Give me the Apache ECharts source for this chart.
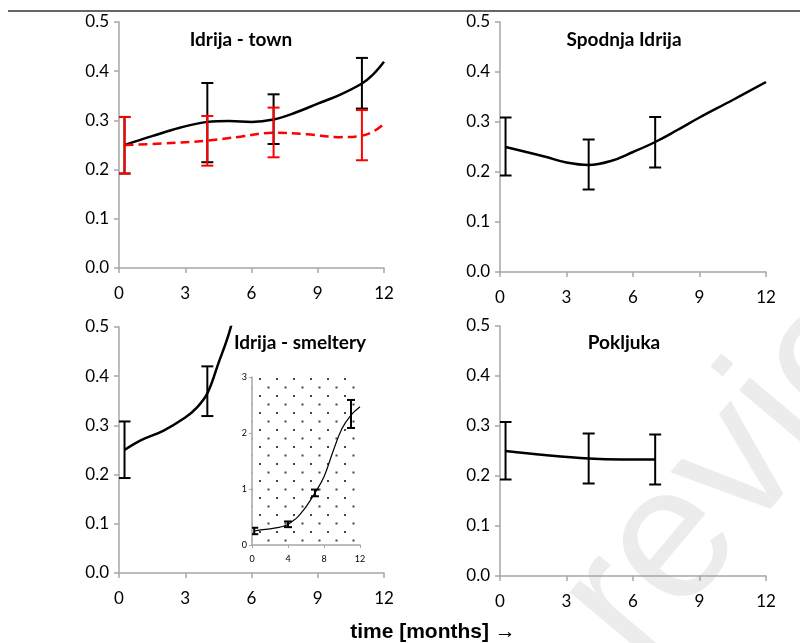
<!DOCTYPE html>
<html>
<head>
<meta charset="utf-8">
<script src="https://cdn.jsdelivr.net/npm/echarts@6/dist/echarts.min.js"></script>
<style>
  html, body { margin: 0; padding: 0; background: #fff; }
  #chart { width: 800px; height: 643px; }
</style>
</head>
<body>
<div id="chart"></div>
<script>
// measured points (months, mean, low, high)
const sampleX = [0.25, 4, 7, 11]

const townBlackMean = [0.25, 0.295, 0.302, 0.375]
const townBlackLow = [0.192, 0.215, 0.252, 0.324]
const townBlackHigh = [0.307, 0.376, 0.353, 0.427]
const townRedMean = [0.25, 0.258, 0.275, 0.27]
const townRedLow = [0.192, 0.208, 0.225, 0.219]
const townRedHigh = [0.307, 0.309, 0.326, 0.321]

const spodnjaX = [0.25, 4, 7]
const spodnjaMean = [0.25, 0.214, 0.26]
const spodnjaLow = [0.193, 0.165, 0.209]
const spodnjaHigh = [0.309, 0.265, 0.31]

const smelteryMean = [0.25, 0.368, 0.93, 2.34]
const smelteryLow = [0.193, 0.319, 0.87, 2.09]
const smelteryHigh = [0.308, 0.42, 0.99, 2.59]

const pokljukaX = [0.25, 4, 7]
const pokljukaMean = [0.25, 0.235, 0.233]
const pokljukaLow = [0.193, 0.185, 0.183]
const pokljukaHigh = [0.308, 0.285, 0.283]

// trend curves
const townBlackTrendX = [0.25, 1.5, 2.75, 4, 5, 6, 7, 8, 9, 10, 11, 11.5, 12]
const townBlackTrendY = [0.25, 0.268, 0.285, 0.297, 0.299, 0.297, 0.302, 0.316, 0.334, 0.352, 0.375, 0.393, 0.419]
const townRedTrendX = [0.25, 2, 4, 5.5, 7, 8.5, 10, 11, 11.5, 12]
const townRedTrendY = [0.25, 0.253, 0.259, 0.267, 0.275, 0.272, 0.266, 0.269, 0.277, 0.293]
const spodnjaTrendX = [0.25, 2, 3, 4, 5, 6, 7, 8, 9, 10.5, 12]
const spodnjaTrendY = [0.25, 0.231, 0.219, 0.214, 0.222, 0.24, 0.26, 0.284, 0.309, 0.344, 0.38]
const smelteryTrendX = [0.25, 1, 2, 3, 3.5, 4, 4.5, 5, 5.5, 6, 7, 8, 9, 10, 11, 12]
const smelteryTrendY = [0.25, 0.27, 0.289, 0.316, 0.335, 0.365, 0.426, 0.49, 0.58, 0.68, 0.93, 1.22, 1.67, 2.08, 2.32, 2.47]
const pokljukaTrendX = [0.25, 2, 4, 5.5, 7]
const pokljukaTrendY = [0.25, 0.242, 0.235, 0.233, 0.233]

const panelTitles = ['Idrija - town', 'Spodnja Idrija', 'Idrija - smeltery', 'Pokljuka']
const xTitle = 'time [months] \u2192'

const zip = (a, b) => a.map((v, i) => [v, b[i]])
const zip3 = (a, b, c) => a.map((v, i) => [v, b[i], c[i]])

function dotPattern() {
  const c = document.createElement('canvas')
  c.width = 17
  c.height = 17
  const ctx = c.getContext('2d')
  ctx.fillStyle = '#444'
  ctx.fillRect(4, 4, 2, 2)
  ctx.fillRect(12.5, 12.5, 2, 2)
  return { image: c, repeat: 'repeat' }
}

function errorBars(color, cap, width) {
  return function (params, api) {
    const x = api.value(0)
    const lo = api.coord([x, api.value(1)])
    const hi = api.coord([x, api.value(2)])
    const h = cap / 2
    const style = { stroke: color, lineWidth: width }
    return {
      type: 'group',
      children: [
        { type: 'line', shape: { x1: lo[0], y1: lo[1], x2: hi[0], y2: hi[1] }, style },
        { type: 'line', shape: { x1: lo[0] - h, y1: lo[1], x2: lo[0] + h, y2: lo[1] }, style },
        { type: 'line', shape: { x1: hi[0] - h, y1: hi[1], x2: hi[0] + h, y2: hi[1] }, style }
      ]
    }
  }
}

const axisGrey = '#a6a6a6'
const font = 'Lato, sans-serif'
const titleFont = 'bold 19px Lato'

function mainX(i) {
  return {
    type: 'value', gridIndex: i, min: 0, max: 12, interval: 3,
    axisLine: { show: true, lineStyle: { color: axisGrey, width: 1.5 } },
    axisTick: { show: true, length: 5, lineStyle: { color: axisGrey, width: 1.5 } },
    axisLabel: { color: '#000', fontFamily: font, fontSize: 17, margin: 17 },
    splitLine: { show: false }
  }
}
function mainY(i) {
  return {
    type: 'value', gridIndex: i, min: 0, max: 0.5, interval: 0.1,
    axisLine: { show: true, lineStyle: { color: axisGrey, width: 1.5 } },
    axisTick: { show: true, length: 5, lineStyle: { color: axisGrey, width: 1.5 } },
    axisLabel: { color: '#000', fontFamily: font, fontSize: 17, margin: 10, formatter: v => v.toFixed(1) },
    splitLine: { show: false }
  }
}

function trend(i, xs, ys, color, width, dashed) {
  return {
    type: 'line', xAxisIndex: i, yAxisIndex: i, data: zip(xs, ys),
    smooth: 0.4, showSymbol: false, silent: true, clip: true, z: 3,
    lineStyle: { color, width, type: dashed ? [9, 5] : 'solid' }
  }
}
function bars(i, xs, lo, hi, color, cap, width) {
  return {
    type: 'custom', xAxisIndex: i, yAxisIndex: i, clip: true, silent: true, z: 4,
    data: zip3(xs, lo, hi), encode: { x: 0, y: [1, 2] },
    renderItem: errorBars(color, cap, width)
  }
}

const chart = echarts.init(document.getElementById('chart'))

chart.setOption({
  animation: false,
  backgroundColor: '#fff',
  grid: [
    { left: 119, top: 22, width: 265, height: 246 },
    { left: 500, top: 22, width: 266, height: 250 },
    { left: 119, top: 327, width: 265, height: 246 },
    { left: 500, top: 326, width: 266, height: 250 },
    { left: 252, top: 377, width: 108, height: 168, show: true, backgroundColor: dotPattern(), borderWidth: 0, z: 5 }
  ],
  xAxis: [mainX(0), mainX(1), mainX(2), mainX(3), {
    type: 'value', gridIndex: 4, min: 0, max: 12, interval: 4, z: 6,
    axisLine: { show: true, lineStyle: { color: axisGrey, width: 1.5 } },
    axisTick: { show: true, length: 3, lineStyle: { color: axisGrey } },
    axisLabel: { color: '#000', fontFamily: font, fontSize: 9, margin: 10 },
    splitLine: { show: false }
  }],
  yAxis: [mainY(0), mainY(1), mainY(2), mainY(3), {
    type: 'value', gridIndex: 4, min: 0, max: 3, interval: 1, z: 6,
    axisLine: { show: true, lineStyle: { color: axisGrey, width: 1.5 } },
    axisTick: { show: true, length: 3, lineStyle: { color: axisGrey } },
    axisLabel: { color: '#000', fontFamily: font, fontSize: 9, margin: 5 },
    splitLine: { show: false }
  }],
  graphic: [
    { type: 'text', x: 598, y: 633, rotation: 50 * Math.PI / 180, z: -10, silent: true,
      style: { text: 'review', fill: '#ececec', font: '190px "Liberation Sans", sans-serif', textVerticalAlign: 'middle' } },
    { type: 'line', shape: { x1: 8, y1: 11, x2: 800, y2: 11 }, style: { stroke: '#333', lineWidth: 1.5 }, silent: true },
    { type: 'text', x: 241, y: 40, style: { text: panelTitles[0], font: titleFont, fill: '#000', textAlign: 'center', textVerticalAlign: 'middle' } },
    { type: 'text', x: 624, y: 40, style: { text: panelTitles[1], font: titleFont, fill: '#000', textAlign: 'center', textVerticalAlign: 'middle' } },
    { type: 'text', x: 300, y: 343, z: 10, style: { text: panelTitles[2], font: titleFont, fill: '#000', textAlign: 'center', textVerticalAlign: 'middle' } },
    { type: 'text', x: 624, y: 343, style: { text: panelTitles[3], font: titleFont, fill: '#000', textAlign: 'center', textVerticalAlign: 'middle' } },
    { type: 'text', x: 433, y: 632, style: { text: xTitle, font: 'bold 21px "Liberation Sans", Arial, sans-serif', fill: '#000', textAlign: 'center', textVerticalAlign: 'middle' } }
  ],
  series: [
    trend(0, townBlackTrendX, townBlackTrendY, '#000', 2.5, false),
    trend(0, townRedTrendX, townRedTrendY, '#ff0000', 2.5, true),
    bars(0, sampleX, townBlackLow, townBlackHigh, '#000', 12, 2),
    bars(0, sampleX, townRedLow, townRedHigh, '#ff0000', 12, 2),

    trend(1, spodnjaTrendX, spodnjaTrendY, '#000', 2.5, false),
    bars(1, spodnjaX, spodnjaLow, spodnjaHigh, '#000', 12, 2),

    trend(2, smelteryTrendX, smelteryTrendY, '#000', 2.5, false),
    bars(2, sampleX, smelteryLow, smelteryHigh, '#000', 12, 2),

    trend(3, pokljukaTrendX, pokljukaTrendY, '#000', 2.5, false),
    bars(3, pokljukaX, pokljukaLow, pokljukaHigh, '#000', 12, 2),

    Object.assign(trend(4, smelteryTrendX, smelteryTrendY, '#000', 1.2, false), { z: 7 }),
    Object.assign(bars(4, sampleX, smelteryLow, smelteryHigh, '#000', 8, 2), { z: 8 })
  ]
})

window.addEventListener('resize', () => chart.resize())
</script>
</body>
</html>
